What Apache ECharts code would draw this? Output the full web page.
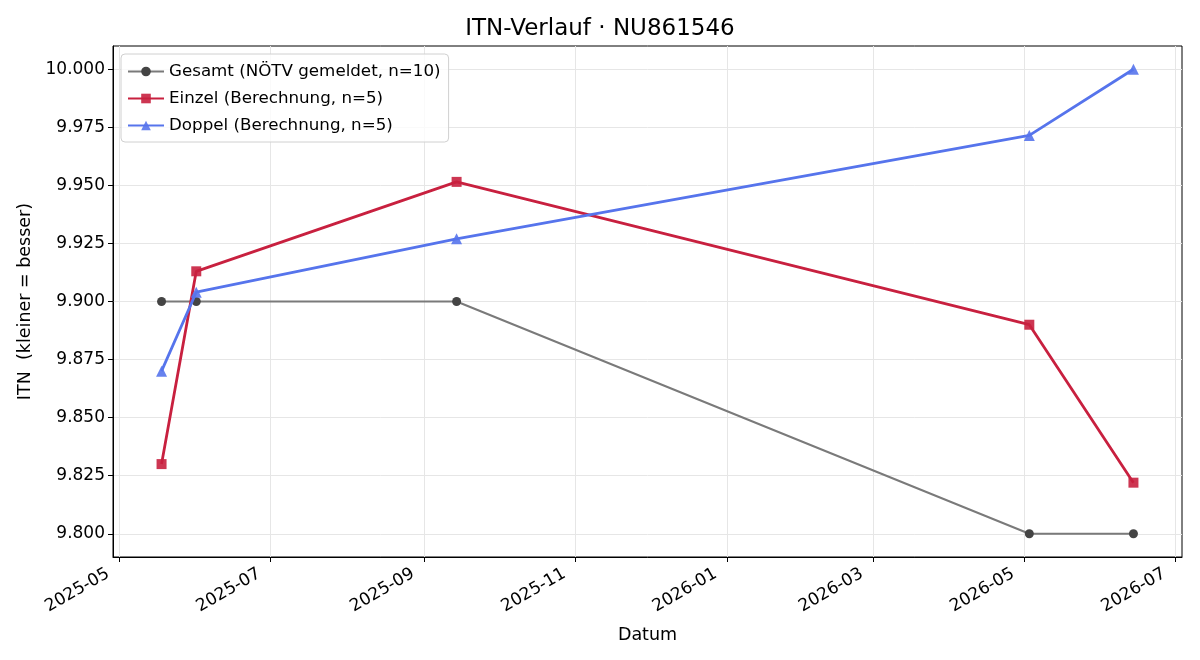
<!DOCTYPE html>
<html>
<head>
<meta charset="utf-8">
<script src="https://cdn.jsdelivr.net/npm/echarts@6/dist/echarts.min.js"></script>
<style>
html,body{margin:0;padding:0;background:#fff;}
#chart{width:1200px;height:660px;}
</style>
</head>
<body>
<div id="chart"></div>
<script>
const gesamtDates = ['2025-05-18','2025-06-01','2025-09-14','2026-05-03','2026-06-14'];
const gesamtValues = [9.9, 9.9, 9.9, 9.8, 9.8];
const einzelDates = ['2025-05-18','2025-06-01','2025-09-14','2026-05-03','2026-06-14'];
const einzelValues = [9.830, 9.913, 9.9515, 9.890, 9.822];
const doppelDates = ['2025-05-18','2025-06-01','2025-09-14','2026-05-03','2026-06-14'];
const doppelValues = [9.870, 9.904, 9.927, 9.9715, 10.000];
const xTickLabels = ['2025-05','2025-07','2025-09','2025-11','2026-01','2026-03','2026-05','2026-07'];
const yTicks = [9.800, 9.825, 9.850, 9.875, 9.900, 9.925, 9.950, 9.975, 10.000];
const seriesNames = ['Gesamt (NÖTV gemeldet, n=10)','Einzel (Berechnung, n=5)','Doppel (Berechnung, n=5)'];

const ts = s => { const p = s.split('-').map(Number); return Date.UTC(p[0], p[1]-1, p[2] || 1); };
const xTickValues = xTickLabels.map(ts);
const xMin = ts('2025-04-28') + 10*3600*1000;
const xMax = ts('2026-07-03') + 14*3600*1000;
const pairs = (d, v) => d.map((x, i) => [ts(x), v[i]]);
const labelOf = v => { const d = new Date(v); return d.getUTCFullYear() + '-' + String(d.getUTCMonth()+1).padStart(2,'0'); };

const FONT = 'DejaVu Sans';
const chart = echarts.init(document.getElementById('chart'));
chart.setOption({
  backgroundColor: '#ffffff',
  animation: false,
  textStyle: { fontFamily: FONT },
  title: {
    text: 'ITN-Verlauf · NU861546',
    left: 'center', top: 13,
    textStyle: { fontFamily: FONT, fontSize: 23, fontWeight: 'normal', color: '#000' }
  },
  legend: {
    orient: 'vertical', left: 121, top: 54,
    backgroundColor: 'rgba(255,255,255,0.8)',
    borderColor: '#d0d0d0', borderWidth: 1, borderRadius: 4,
    padding: [9, 8, 8, 6], itemGap: 10, itemWidth: 36, itemHeight: 12,
    textStyle: { fontFamily: FONT, fontSize: 16.7, color: '#000' },
    data: seriesNames
  },
  grid: { left: 113, right: 18, top: 46, bottom: 103, containLabel: false,
    show: true, borderColor: '#000', borderWidth: 1, backgroundColor: 'transparent' },
  xAxis: {
    type: 'value', min: xMin, max: xMax, scale: true,
    name: 'Datum', nameLocation: 'middle', nameGap: 69,
    nameTextStyle: { fontFamily: FONT, fontSize: 17.5, color: '#000' },
    axisLine: { onZero: false, lineStyle: { color: '#000', width: 1 } },
    axisTick: { show: true, customValues: xTickValues, length: 5, lineStyle: { color: '#000' } },
    axisLabel: {
      customValues: xTickValues, rotate: 30, fontFamily: FONT, fontSize: 17, color: '#000', margin: 9,
      padding: [0, 13, 0, 0],
      formatter: v => labelOf(v)
    },
    splitLine: { show: true, lineStyle: { color: '#e6e6e6', width: 1 } }
  },
  yAxis: {
    type: 'value', min: 9.79, max: 10.01, scale: true,
    name: 'ITN  (kleiner = besser)', nameLocation: 'middle', nameGap: 78, nameRotate: 90,
    nameTextStyle: { fontFamily: FONT, fontSize: 17.5, color: '#000' },
    axisLine: { show: true, onZero: false, lineStyle: { color: '#000', width: 1 } },
    axisTick: { show: true, customValues: yTicks, length: 5, lineStyle: { color: '#000' } },
    axisLabel: { customValues: yTicks, fontFamily: FONT, fontSize: 17, color: '#000', margin: 8,
      formatter: v => v.toFixed(3) },
    splitLine: { show: true, lineStyle: { color: '#e6e6e6', width: 1 } }
  },
  series: [
    {
      name: seriesNames[0], type: 'line', data: pairs(gesamtDates, gesamtValues),
      symbol: 'circle', symbolSize: 9,
      lineStyle: { color: '#7a7a7a', width: 2 },
      itemStyle: { color: '#444444', opacity: 1 },
      color: '#777777', z: 2
    },
    {
      name: seriesNames[1], type: 'line', data: pairs(einzelDates, einzelValues),
      symbol: 'rect', symbolSize: 10,
      lineStyle: { color: '#c8203f', width: 2.8 },
      itemStyle: { color: '#c8203f', opacity: 0.9 },
      color: '#c8203f', z: 3
    },
    {
      name: seriesNames[2], type: 'line', data: pairs(doppelDates, doppelValues),
      symbol: 'triangle', symbolSize: 11,
      lineStyle: { color: '#5674ec', width: 2.8 },
      itemStyle: { color: '#5674ec', opacity: 0.9 },
      color: '#5674ec', z: 4
    }
  ]
});
</script>
</body>
</html>
